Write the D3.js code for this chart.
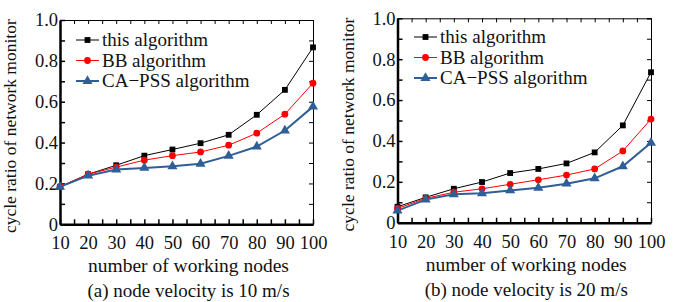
<!DOCTYPE html>
<html>
<head>
<meta charset="utf-8">
<script src="https://cdn.jsdelivr.net/npm/d3@7"></script>
<style>
  body { margin: 0; background: #fff; }
  svg text { font-family: "Liberation Serif", "Times New Roman", serif; }
</style>
</head>
<body>
<svg id="chart" width="680" height="302"></svg>
<script>
// x values (number of working nodes)
const nodes = [10, 20, 30, 40, 50, 60, 70, 80, 90, 100];
const seriesNames = ["this algorithm", "BB algorithm", "CA\u2212PSS algorithm"];

// (a) 10 m/s
const thisA = [0.183, 0.245, 0.289, 0.336, 0.366, 0.397, 0.438, 0.536, 0.658, 0.866];
const bbA   = [0.185, 0.245, 0.280, 0.314, 0.336, 0.354, 0.387, 0.446, 0.539, 0.691];
const caA   = [0.183, 0.238, 0.268, 0.276, 0.284, 0.296, 0.335, 0.380, 0.459, 0.576];

// (b) 20 m/s
const thisB = [0.078, 0.124, 0.166, 0.199, 0.243, 0.263, 0.290, 0.344, 0.476, 0.736];
const bbB   = [0.070, 0.119, 0.149, 0.166, 0.188, 0.210, 0.233, 0.263, 0.351, 0.507];
const caB   = [0.059, 0.113, 0.139, 0.144, 0.158, 0.171, 0.191, 0.217, 0.276, 0.391];

const colors = ["#000000", "#ff0000", "#2f5f96"];
const widths = [1, 1, 2];
const shapes = [d3.symbolSquare, d3.symbolCircle, d3.symbolTriangle];
const sizes = [34, 36, 44];

const svg = d3.select("#chart");

function drawPanel(opts) {
    const { left, top, w, h, data, caption, legendX, legendY } = opts;
    const g = svg.append("g").attr("transform", `translate(${left}, ${top})`);

    const x = d3.scaleLinear().domain([10, 100]).range([0, w]);
    const y = d3.scaleLinear().domain([0, 1]).range([h, 0]);

    const fine = d3.range(10, 100.1, 5);
    const fineY = d3.range(0, 1.001, 0.1);

    // 上・右の枠（細い）
    g.append("g").call(d3.axisTop(x).tickValues(fine).tickSize(-4).tickFormat(""))
        .call(a => a.select(".domain").attr("stroke-width", 1));
    g.append("g").attr("transform", `translate(${w}, 0)`)
        .call(d3.axisRight(y).tickValues(fineY).tickSize(-4).tickFormat(""))
        .call(a => a.select(".domain").attr("stroke-width", 1));

    // 下・左の軸（太い）
    const xaxis = g.append("g").attr("transform", `translate(0, ${h})`)
        .call(d3.axisBottom(x).tickValues(fine).tickSize(-5).tickSizeOuter(0)
            .tickFormat(d => d % 10 === 0 ? d : "").tickPadding(12));
    xaxis.select(".domain").attr("stroke-width", 2.5);
    xaxis.selectAll(".tick line").attr("stroke-width", 1.5);
    xaxis.selectAll("text").attr("font-size", 18.5).attr("fill", "#111");

    const yaxis = g.append("g")
        .call(d3.axisLeft(y).tickValues(fineY).tickSize(-5).tickSizeOuter(0)
            .tickFormat(d => {
                const r = Math.round(d * 10);
                if (r % 2 !== 0) return "";
                return r === 0 ? "0" : d3.format(".1f")(d);
            }).tickPadding(2));
    yaxis.select(".domain").attr("stroke-width", 2.5);
    yaxis.selectAll(".tick line").attr("stroke-width", 1.5);
    yaxis.selectAll("text").attr("font-size", 18.5).attr("fill", "#111");

    // lines
    const line = d3.line().x((d, i) => x(nodes[i])).y(d => y(d));
    data.forEach((vals, k) => {
        g.append("path").datum(vals)
            .attr("fill", "none")
            .attr("stroke", colors[k])
            .attr("stroke-width", widths[k])
            .attr("d", line);
    });
    // markers
    data.forEach((vals, k) => {
        g.selectAll(null).data(vals).enter()
            .append("path")
            .attr("d", d3.symbol().type(shapes[k]).size(sizes[k]))
            .attr("transform", (d, i) => `translate(${x(nodes[i])}, ${y(d)})`)
            .attr("fill", colors[k]);
    });

    // legend
    seriesNames.forEach((name, k) => {
        const ly = legendY + k * 20.5;
        const lg = svg.append("g").attr("transform", `translate(${legendX}, ${ly})`);
        lg.append("line").attr("x1", 0).attr("x2", 23).attr("y1", 0).attr("y2", 0)
            .attr("stroke", colors[k]).attr("stroke-width", widths[k]);
        lg.append("path").attr("d", d3.symbol().type(shapes[k]).size(sizes[k]))
            .attr("transform", "translate(11.5, 0)").attr("fill", colors[k]);
        lg.append("text").attr("x", 26).attr("y", 6)
            .attr("font-size", 19).attr("fill", "#111").text(name);
    });

    // axis titles
    svg.append("text")
        .attr("transform", `translate(${left - 44}, ${top + h / 2 + 4}) rotate(-90)`)
        .attr("text-anchor", "middle").attr("font-size", 17.5).attr("fill", "#111")
        .text("cycle ratio of network monitor");
    svg.append("text")
        .attr("x", left + w / 2 + 2).attr("y", top + h + 48)
        .attr("text-anchor", "middle").attr("font-size", 19.5).attr("fill", "#111")
        .text("number of working nodes");
    svg.append("text")
        .attr("x", left + w / 2 + 2).attr("y", top + h + 73)
        .attr("text-anchor", "middle").attr("font-size", 19).attr("fill", "#111")
        .text(caption);
}

drawPanel({ left: 60, top: 20, w: 253, h: 204.3, data: [thisA, bbA, caA],
    caption: "(a) node velocity is 10 m/s", legendX: 76, legendY: 40 });
drawPanel({ left: 397.5, top: 18.3, w: 253.5, h: 204.4, data: [thisB, bbB, caB],
    caption: "(b) node velocity is 20 m/s", legendX: 414, legendY: 37 });
</script>
</body>
</html>
